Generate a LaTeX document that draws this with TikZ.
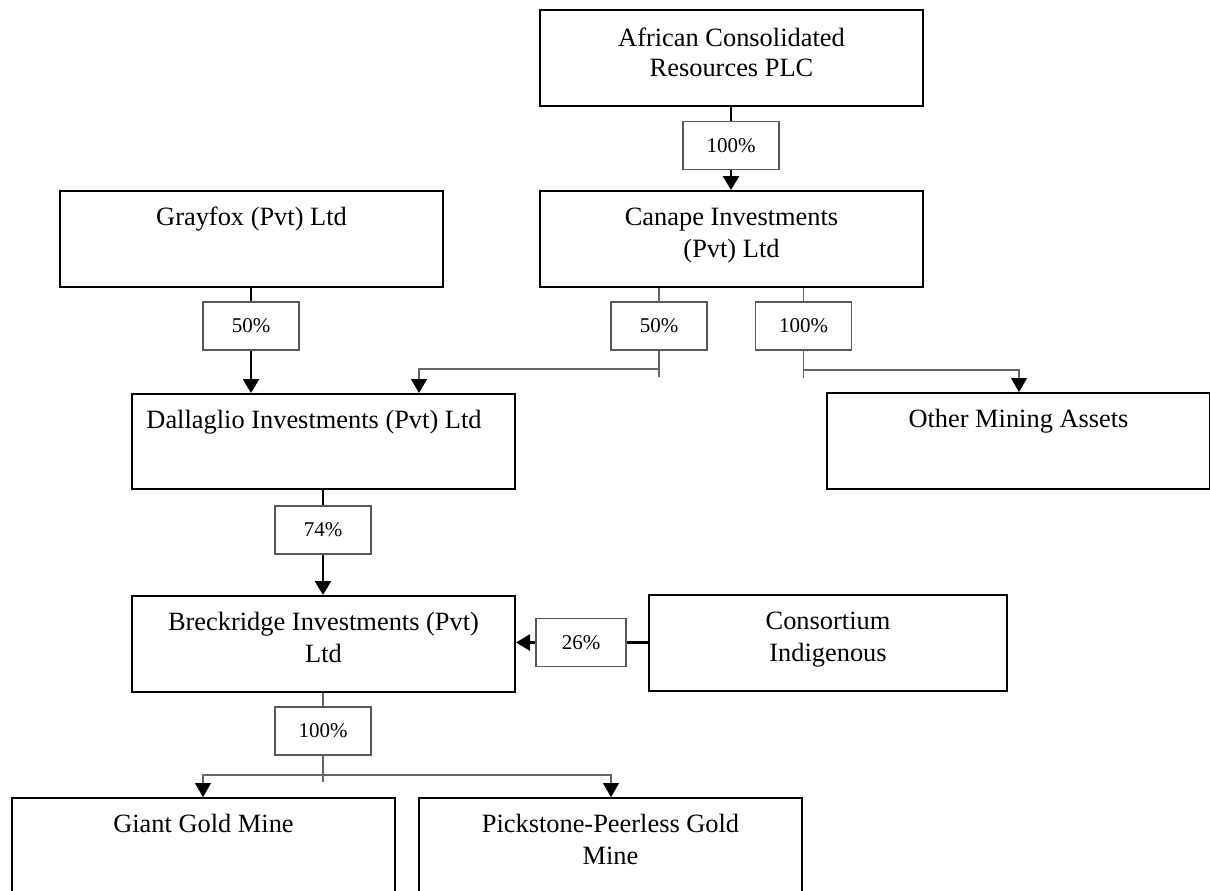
\documentclass[tikz,border=0pt]{standalone}
\usepackage{fontspec}
\setmainfont{Liberation Serif}
\usetikzlibrary{arrows.meta}

\tikzset{
  entity/.style={draw=black, line width=1pt, minimum width=191.5pt, minimum height=48pt,
    inner sep=0pt, align=center, text height=17pt, text depth=31pt, anchor=north west,
    font=\fontsize{13.2}{16}\selectfont},
  twoline/.style={text height=33pt, text depth=15pt},
  share/.style={draw=black!65, line width=0.6pt, minimum width=48pt, minimum height=24pt,
    inner sep=0pt, font=\fontsize{10.5}{12}\selectfont},
  heavy/.style={line width=1.4pt},
  own/.style={heavy, -{Triangle[length=7pt,width=8pt]}},
  link/.style={draw=black!60, line width=0.6pt},
  sub/.style={link, -{Triangle[length=7pt,width=8pt,color=black]}},
}

\begin{document}
\begin{tikzpicture}[x=0.5pt,y=-0.5pt]
      \useasboundingbox (0,0) rectangle (1210,890);
      \clip (0,0) rectangle (1210,890);

      % companies
      \node[entity, text height=33pt, text depth=15pt, font=\fontsize{13.2}{15}\selectfont]
        (acr) at (539,9) {African Consolidated\\Resources PLC};
      \node[entity, twoline] (canape) at (539,190) {Canape Investments\\(Pvt) Ltd};
      \node[entity] (grayfox) at (59,190) {Grayfox (Pvt) Ltd};
      \node[entity, minimum height=47.5pt, text depth=30.5pt] (dallaglio) at (131,393)
        {\hspace*{-9.5pt}Dallaglio Investments (Pvt) Ltd};
      \node[entity] (other) at (826,392) {Other Mining Assets};
      \node[entity, twoline] (breck) at (131,595) {Breckridge Investments (Pvt)\\Ltd};
      \node[entity, twoline, minimum width=179pt] (consort) at (648,594) {Consortium\\Indigenous};
      \node[entity] (giant) at (11,797) {Giant Gold Mine};
      \node[entity, twoline] (pick) at (418,797) {Pickstone-Peerless Gold\\Mine};

      % shareholdings
      \node[share] (s1) at (731,145.5) {100\%};
      \node[share] (s2) at (251,326) {50\%};
      \node[share] (s3) at (659,326) {50\%};
      \node[share] (s4) at (803.5,326) {100\%};
      \node[share] (s5) at (323,530) {74\%};
      \node[share, minimum width=45pt] (s6) at (581,642.5) {26\%};
      \node[share] (s7) at (323,731) {100\%};

      \coordinate (j1) at (659,369);
      \coordinate (t1) at (419,369);
      \coordinate (j2) at (803.5,370);
      \coordinate (t2) at (1019,370);
      \coordinate (j3) at (323,775);
      \coordinate (t3) at (203,775);
      \coordinate (t4) at (611,775);

      % connectors
      \draw[heavy] (s1.north |- acr.south) -- (s1.north);
      \draw[own] (s1.south) -- (s1.south |- canape.north);
      \draw[heavy] (s2.north |- grayfox.south) -- (s2.north);
      \draw[own] (s2.south) -- (s2.south |- dallaglio.north);

      \draw[link] (s3.north |- canape.south) -- (s3.north);
      \draw[link] (s3.south) -- ([yshift=-4pt]j1);
      \draw[sub] (j1) -- (t1) -- (t1 |- dallaglio.north);
      \draw[link] (s4.north |- canape.south) -- (s4.north);
      \draw[link] (s4.south) -- ([yshift=-4pt]j2);
      \draw[sub] (j2) -- (t2) -- (t2 |- other.north);

      \draw[heavy] (s5.north |- dallaglio.south) -- (s5.north);
      \draw[own] (s5.south) -- (s5.south |- breck.north);
      \draw[heavy] (consort.west |- s6.east) -- (s6.east);
      \draw[own] (s6.west) -- (s6.west -| breck.east);

      \draw[link] (s7.north |- breck.south) -- (s7.north);
      \draw[link] (s7.south) -- ([yshift=-3.5pt]j3);
      \draw[sub] (j3) -- (t3) -- (t3 |- giant.north);
      \draw[sub] (j3) -- (t4) -- (t4 |- pick.north);
\end{tikzpicture}
\end{document}
